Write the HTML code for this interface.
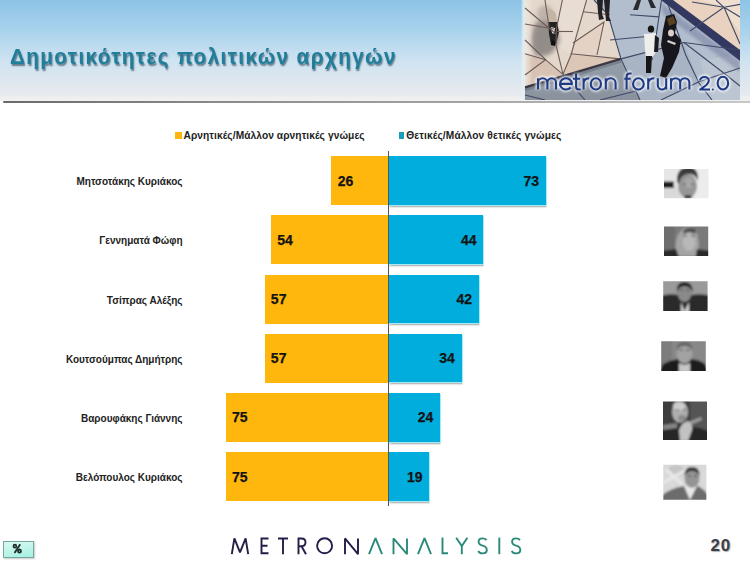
<!DOCTYPE html>
<html><head><meta charset="utf-8">
<style>
*{margin:0;padding:0;box-sizing:border-box}
html,body{width:750px;height:561px;overflow:hidden;background:#fff;font-family:"Liberation Sans",sans-serif}
.abs{position:absolute}
#hdr{left:0;top:0;width:750px;height:101px;background:linear-gradient(180deg,#8cc3e5 0%,#a9d2ec 30%,#cfe3f1 60%,#e4e9ee 90%,#e8ebee 94.5%,#efefef 96%,#f0f0f0 100%)}
#hline{left:2.5px;top:100.6px;width:748px;height:2px;border-radius:1px;background:linear-gradient(90deg,#6a6a6a,#7c7c7c 15%,#909090 35%,#a2a2a2 60%,#bcbcbc 85%,#c8c8c8 100%);filter:blur(0.55px)}
#title{left:10px;top:43.6px;font-size:22px;font-weight:bold;color:#1f7f9a;letter-spacing:1.48px;white-space:nowrap;transform:scaleX(0.94);transform-origin:0 0;text-shadow:1px 2px 1.6px rgba(20,50,70,0.6)}
.leg{font-size:10.2px;font-weight:bold;color:#222;white-space:nowrap;top:130px;letter-spacing:0.08px}
.sq{width:6px;height:6.5px;top:132.3px}
.lbl{font-size:10px;font-weight:bold;color:#222;white-space:nowrap;right:567.5px;text-align:right;line-height:11px}
.bo{background:#ffb70e}
.bb{background:#00addd;box-shadow:1px 1px 0 #a6eaf5,1.2px 3.2px 1.5px rgba(80,80,80,0.4)}
.val{font-size:14px;font-weight:bold;color:#141414;line-height:16px;-webkit-text-stroke:0.25px #141414}
#axis{left:388px;top:151px;width:1px;height:355px;background:#555}
.ph{width:45px;height:30px}
</style></head><body>
<div id="hdr" class="abs"></div>
<div id="hline" class="abs"></div>
<div id="title" class="abs">Δημοτικότητες πολιτικών αρχηγών</div>

<!-- collage -->
<svg class="abs" style="left:521px;top:0" width="219" height="100" viewBox="521 0 219 100">
 <defs>
  <filter id="bl1" x="-50%" y="-50%" width="200%" height="200%"><feGaussianBlur stdDeviation="2.2"/></filter>
  <filter id="bl2" x="-50%" y="-50%" width="200%" height="200%"><feGaussianBlur stdDeviation="0.7"/></filter>
  <filter id="bl3" x="-50%" y="-50%" width="200%" height="200%"><feGaussianBlur stdDeviation="1.5"/></filter>
  <filter id="glow" x="-10%" y="-30%" width="120%" height="160%"><feGaussianBlur stdDeviation="1.3"/></filter>
  <linearGradient id="lowg" x1="0" y1="0" x2="0" y2="1"><stop offset="0" stop-color="#a2adbd"/><stop offset="1" stop-color="#8a929e"/></linearGradient>
  <linearGradient id="edge" x1="0" y1="0" x2="1" y2="0"><stop offset="0" stop-color="#ffffff" stop-opacity="0"/><stop offset="0.5" stop-color="#e2eef2" stop-opacity="0.8"/><stop offset="1" stop-color="#e8eeee"/></linearGradient><linearGradient id="ledge" x1="0" y1="0" x2="1" y2="0"><stop offset="0" stop-color="#efe9e0" stop-opacity="0.9"/><stop offset="1" stop-color="#efe9e0" stop-opacity="0"/></linearGradient>
 </defs>
 <rect x="521" y="0" width="4.5" height="100" fill="url(#edge)"/>
 <rect x="525" y="0" width="215" height="100" fill="url(#lowg)"/>
 <!-- right blue tiles lighter -->
 <polygon points="594,0 665,0 740,52 740,100 640,100 621,58.9 608,14.5" fill="#b2bece"/>
 <polygon points="621,58.9 684,42.5 699,83 661,100 640,100" fill="#a8b3c3"/>
 <polygon points="700,60 740,55 740,100 712,100" fill="#bcc6d2"/>
 <!-- beige left region -->
 <polygon points="525,0 594,0 608,14.5 621,58.9 525,86.8" fill="#e4d8cc"/>
 <polygon points="525,53.8 545.5,59.7 563,74.3 525,86" fill="#d8c2b4"/>
 <polygon points="571,55 620.3,58.9 563,74.3" fill="#dcc6b6"/>
 <polygon points="562.4,0 586.6,0 571,55 556,45 556.5,28" fill="#e8ddd3"/>
 <polygon points="573,43 604,22 597,55 571,55" fill="#e4d2c4"/>
 <polygon points="525,24 554,29 540,55 525,40" fill="#ddd0c6"/>
 <!-- peach upper right -->
 <polygon points="666,0 740,0 740,54" fill="#e9d3c0"/>
 <polygon points="700,0 740,0 740,32 721,6" fill="#f0dfcf"/>
 <!-- shadow figure -->
 <path d="M536,22 Q548,16 556,26 L560,40 Q556,52 546,56 L536,56 Q530,46 532,34 Z" fill="#8c8684" filter="url(#bl1)" opacity="0.9"/>
 <ellipse cx="545" cy="14" rx="8" ry="9" fill="#a59c94" filter="url(#bl1)" opacity="0.6"/>
 <path d="M548,20 L557,22 L559,32 L556,44 L551,45 L549,34 Z" fill="#202020" filter="url(#bl2)"/>
 <path d="M547,10 Q553,8 556,14 L557,22 L548,22 Z" fill="#c4b4a4" filter="url(#bl2)"/>
 <path d="M551,27 L555,28 L554,34 L552,33 Z" fill="#e0e0d8" filter="url(#bl2)"/>
 <path d="M552,40 L556,42 L555,46 L551,45 Z" fill="#101010" filter="url(#bl2)"/>
 <rect x="525" y="0" width="8" height="86" fill="url(#ledge)"/>
 <!-- tile lines beige -->
 <g stroke="#6e5c58" stroke-width="1.1" fill="none">
  <path d="M525,8 L556,34"/>
  <path d="M545,0 L549,27"/>
  <path d="M562.4,0 L556.5,28 L556,45 L563,74.3"/>
  <path d="M586.6,0 L571,55 L563,74.3"/>
  <path d="M583,11.7 L610,14.7"/>
  <path d="M557,31.5 L573,31.5"/>
  <path d="M573,43 L604,22 L597,55"/>
  <path d="M525,24 L554,29"/>
  <path d="M525,40 L546,60"/>
  <path d="M525,53.8 L545.5,59.7 L563,74.3"/>
  <path d="M525,75 L545.5,59.7"/>
  <path d="M570.5,53.8 L620.3,58.9"/>
 </g>
 <!-- dark boundary line -->
 <path d="M525,87.5 L621,58.8" stroke="#3a3844" stroke-width="2.4" fill="none"/>
 <path d="M525,90 L621,61.5" stroke="#6a707c" stroke-width="2.5" fill="none" opacity="0.6" filter="url(#bl2)"/>
 <!-- navy band with shadow -->
 <polygon points="661,0 673,0 740,50 740,61" fill="#33375f" filter="url(#bl2)"/>
 <polygon points="661,3 740,61 740,72 663,14" fill="#6a7196" opacity="0.45" filter="url(#bl3)"/>
 <!-- blue region lines -->
 <g stroke="#404866" stroke-width="1.1" fill="none">
  <path d="M608,14.5 L621,58.9 L640,100"/>
  <path d="M594,0 L608,14.5"/>
  <path d="M630,14.7 L659,16.9"/>
  <path d="M661.5,0 L656.4,34 L652,60"/>
  <path d="M668,4.4 L685.7,55 L699,83 L712,100"/>
  <path d="M684,42.5 L740,50"/>
  <path d="M684,42.5 L725,74 L740,86"/>
  <path d="M661,100 L699,81.7 L740,68"/>
  <path d="M621,58.9 L684,42.5"/>
  <path d="M563,74.3 L585,100"/>
  <path d="M600,100 L640,90"/>
  <path d="M724,7.3 L740,4.4 M724,7.3 L740,17 M724,7.3 L716,0 M724,7.3 L690,31 M724,7.3 L740,44 M692,2 L724,7.3"/>
  <path d="M610,40 L652,36"/>
  <path d="M525,95 L545,100"/>
 </g>
 <!-- people top -->
 <path d="M597,0 L603,0 L602,14 L604,19 L599,20 L598,12 Z M604,0 L610,0 L609,17 L611,21 L606,21 L605,10 Z" fill="#232326" filter="url(#bl2)"/>
 <path d="M633,10 L637,0 L641,0 L638,10 Z M651,8 L648,0 L652,0 L656,8 Z" fill="#2a2a30" filter="url(#bl2)"/>
 <!-- people middle -->
 <g filter="url(#bl2)">
 <ellipse cx="651" cy="29" rx="3.2" ry="3.5" fill="#151515"/>
 <path d="M644,34 L656,33 L657,50 L652,58 L646,58 L645,50 Z" fill="#eeeeec"/>
 <path d="M646,56 L652,56 L651,73 L646,73 Z" fill="#151515"/>
 <path d="M655,35 L659,38 L658,52 L654,52 Z" fill="#1c1c1c"/>
 <path d="M666,16 L674,14 L677,22 L675,33 L681,40 L679,52 L672,68 L666,78 L660,76 L664,58 L661,45 L663,30 Z" fill="#18181a"/>
 <ellipse cx="671" cy="33" rx="3" ry="3.5" fill="#d8cfc8"/>
 <path d="M667,19 L673,16 L676,23 L669,26 Z" fill="#5a4220"/>
 <path d="M668,40 L676,43 L675,45 L667,42 Z" fill="#d0d0d0"/>
 </g>
 <!-- text -->
 <g fill="none" stroke-linecap="butt" stroke-linejoin="round">
  <path d="M538,78.25 V89.55 M538,82.95 A4.7,4.7 0 0 1 547.4,82.95 V89.55 M547.4,82.55 A4.3,4.3 0 0 1 556,82.55 V89.55 M560.05,83.9 H571.95 A5.95,5.65 0 1 0 570.56,87.53 M576.1,73.2 V86.5 Q576.1,89.55 579,89.55 H580.7 M573,78.75 H580 M583.6,78.25 V89.55 M583.6,82.6 Q584.6,78.25 589.2,78.25 M601,83.9 A5.1,5.65 0 1 0 590.8,83.9 A5.1,5.65 0 1 0 601,83.9 M605.8,78.25 V89.55 M605.8,83.15 A4.9,4.9 0 0 1 615.6,83.15 V89.55 M626.6,89.55 V76.6 Q626.6,73.45 629.7,73.45 H631.6 M624.3,78.75 H630.5 M643.75,83.9 A5.35,5.65 0 1 0 633.05,83.9 A5.35,5.65 0 1 0 643.75,83.9 M648.2,78.25 V89.55 M648.2,82.6 Q649.2,78.25 654.4,78.25 M657.8,78.25 V85.35 A4.2,4.2 0 0 0 666.2,85.35 M666.2,78.25 V89.55 M671,78.25 V89.55 M671,82.85 A4.6,4.6 0 0 1 680.2,82.85 V89.55 M680.2,82.85 A4.6,4.6 0 0 1 689.4,82.85 V89.55 M700.1,80.6 A4.35,3.55 0 0 1 708.8,80.6 Q708.8,83 706.4,85 L700.2,89.55 H710 M728.15,83.15 A5.25,6.4 0 1 0 717.65,83.15 A5.25,6.4 0 1 0 728.15,83.15" stroke="#ffffff" stroke-width="5" opacity="0.75" filter="url(#glow)"/>
  <circle cx="712.85" cy="89.4" r="2.4" fill="#ffffff" opacity="0.75" filter="url(#glow)"/>
  <path d="M538,78.25 V89.55 M538,82.95 A4.7,4.7 0 0 1 547.4,82.95 V89.55 M547.4,82.55 A4.3,4.3 0 0 1 556,82.55 V89.55 M560.05,83.9 H571.95 A5.95,5.65 0 1 0 570.56,87.53 M576.1,73.2 V86.5 Q576.1,89.55 579,89.55 H580.7 M573,78.75 H580 M583.6,78.25 V89.55 M583.6,82.6 Q584.6,78.25 589.2,78.25 M601,83.9 A5.1,5.65 0 1 0 590.8,83.9 A5.1,5.65 0 1 0 601,83.9 M605.8,78.25 V89.55 M605.8,83.15 A4.9,4.9 0 0 1 615.6,83.15 V89.55 M626.6,89.55 V76.6 Q626.6,73.45 629.7,73.45 H631.6 M624.3,78.75 H630.5 M643.75,83.9 A5.35,5.65 0 1 0 633.05,83.9 A5.35,5.65 0 1 0 643.75,83.9 M648.2,78.25 V89.55 M648.2,82.6 Q649.2,78.25 654.4,78.25 M657.8,78.25 V85.35 A4.2,4.2 0 0 0 666.2,85.35 M666.2,78.25 V89.55 M671,78.25 V89.55 M671,82.85 A4.6,4.6 0 0 1 680.2,82.85 V89.55 M680.2,82.85 A4.6,4.6 0 0 1 689.4,82.85 V89.55 M700.1,80.6 A4.35,3.55 0 0 1 708.8,80.6 Q708.8,83 706.4,85 L700.2,89.55 H710 M728.15,83.15 A5.25,6.4 0 1 0 717.65,83.15 A5.25,6.4 0 1 0 728.15,83.15" stroke="#1e3a84" stroke-width="2.1"/>
  <circle cx="712.85" cy="89.5" r="1.1" fill="#1e3a84"/>
 </g>
</svg>

<!-- legend -->
<div class="abs sq" style="left:175.3px;width:6.3px;background:#ffb50c"></div>
<div class="abs leg" style="left:183.5px">Αρνητικές/Μάλλον αρνητικές γνώμες</div>
<div class="abs sq" style="left:399px;width:4.6px;background:#1a9cba"></div>
<div class="abs leg" style="left:406.3px;letter-spacing:0.12px">Θετικές/Μάλλον θετικές γνώμες</div>

<div class="abs bo" style="left:331.47px;top:156.30px;width:56.53px;height:49px"></div>
<div class="abs bb" style="left:388.2px;top:156.30px;width:157.68px;height:48.7px"></div>
<div class="abs val" style="left:337.67px;top:172.80px">26</div>
<div class="abs val" style="right:210.92px;top:172.80px">73</div>
<div class="abs lbl" style="top:176.30px">Μητσοτάκης Κυριάκος</div>
<div class="abs bo" style="left:271.13px;top:215.30px;width:116.87px;height:49px"></div>
<div class="abs bb" style="left:388.2px;top:215.30px;width:95.04px;height:48.7px"></div>
<div class="abs val" style="left:277.33px;top:231.80px">54</div>
<div class="abs val" style="right:273.56px;top:231.80px">44</div>
<div class="abs lbl" style="top:235.30px">Γεννηματά Φώφη</div>
<div class="abs bo" style="left:264.67px;top:274.50px;width:123.33px;height:49px"></div>
<div class="abs bb" style="left:388.2px;top:274.50px;width:90.72px;height:48.7px"></div>
<div class="abs val" style="left:270.87px;top:291.00px">57</div>
<div class="abs val" style="right:277.88px;top:291.00px">42</div>
<div class="abs lbl" style="top:294.50px">Τσίπρας Αλέξης</div>
<div class="abs bo" style="left:264.67px;top:333.80px;width:123.33px;height:49px"></div>
<div class="abs bb" style="left:388.2px;top:333.80px;width:73.44px;height:48.7px"></div>
<div class="abs val" style="left:270.87px;top:350.30px">57</div>
<div class="abs val" style="right:295.16px;top:350.30px">34</div>
<div class="abs lbl" style="top:353.80px">Κουτσούμπας Δημήτρης</div>
<div class="abs bo" style="left:225.88px;top:392.90px;width:162.12px;height:49px"></div>
<div class="abs bb" style="left:388.2px;top:392.90px;width:51.84px;height:48.7px"></div>
<div class="abs val" style="left:232.08px;top:409.40px">75</div>
<div class="abs val" style="right:316.76px;top:409.40px">24</div>
<div class="abs lbl" style="top:412.90px">Βαρουφάκης Γιάννης</div>
<div class="abs bo" style="left:225.88px;top:452.10px;width:162.12px;height:49px"></div>
<div class="abs bb" style="left:388.2px;top:452.10px;width:41.04px;height:48.7px"></div>
<div class="abs val" style="left:232.08px;top:468.60px">75</div>
<div class="abs val" style="right:327.56px;top:468.60px">19</div>
<div class="abs lbl" style="top:472.10px">Βελόπουλος Κυριάκος</div>
<div id="axis" class="abs"></div>

<!-- photos -->
<svg class="abs" style="left:0;top:0" width="750" height="561" viewBox="0 0 750 561">
 <defs>
  <filter id="pb" x="-10%" y="-10%" width="120%" height="120%"><feGaussianBlur stdDeviation="0.9"/></filter>
  <clipPath id="c1"><rect x="664" y="169" width="44.5" height="29.3"/></clipPath>
  <clipPath id="c2"><rect x="664" y="226.5" width="44.2" height="29.5"/></clipPath>
  <clipPath id="c3"><rect x="663.2" y="281.3" width="44.4" height="29.7"/></clipPath>
  <clipPath id="c4"><rect x="661.2" y="341.3" width="44.6" height="29.7"/></clipPath>
  <clipPath id="c5"><rect x="663" y="401.6" width="44" height="38.5"/></clipPath>
  <clipPath id="c6"><rect x="663.3" y="464.7" width="43.1" height="35"/></clipPath>
 </defs>
 <g clip-path="url(#c1)"><g filter="url(#pb)">
  <rect x="660" y="165" width="52" height="38" fill="#e6e6e6"/>
  <rect x="695" y="165" width="17" height="38" fill="#ececec"/>
  <path d="M660,188 L676,186 L682,199 L660,199 Z" fill="#d9d9d9"/>
  <rect x="660" y="181.5" width="14" height="6.5" fill="#1e1e1e"/>
  <ellipse cx="687.5" cy="186" rx="9.5" ry="12" fill="#979797"/><ellipse cx="689" cy="183" rx="5" ry="5" fill="#a8a8a8"/>
  <path d="M677,182 Q676,168 688,167 Q699,167 698,181 Q695,173 688,174 Q680,175 679,184 Z" fill="#3a3a3a"/>
  <ellipse cx="688" cy="197" rx="4" ry="2" fill="#3a3a3a"/>
  <path d="M683,184 L686,184 M691,184 L694,184" stroke="#444" stroke-width="1.2"/>
 </g></g>
 <g clip-path="url(#c2)"><g filter="url(#pb)">
  <rect x="660" y="222" width="52" height="38" fill="#7a7a7a"/>
  <rect x="660" y="222" width="15" height="38" fill="#6e6e6e"/>
  <path d="M676,256 Q674,240 679,233 Q684,226 690,227 Q697,228 698,238 Q700,248 697,256 Z" fill="#a4a4a4"/>
  <ellipse cx="689" cy="242" rx="6.5" ry="9" fill="#b8b8b8"/>
  <path d="M683,231 Q689,225 696,230 L695,234 Q689,230 684,234 Z" fill="#4c4c4c"/>
  <path d="M660,251 L676,249 L680,260 L660,260 Z M697,249 L712,251 L712,260 L695,260 Z" fill="#2a2a2a"/>
  <path d="M683,236 L687,236 M691,236 L695,236" stroke="#555" stroke-width="1"/>
 </g></g>
 <g clip-path="url(#c3)"><g filter="url(#pb)">
  <rect x="660" y="277" width="52" height="38" fill="#9a9a9a"/>
  <path d="M660,315 L660,296 Q670,293 679,295 L691,295 Q702,293 712,296 L712,315 Z" fill="#2c2c2c"/>
  <ellipse cx="684.5" cy="293" rx="7" ry="9" fill="#8a8a8a"/>
  <path d="M677,292 Q676,282 684.5,282 Q693,282 692.5,292 Q690,286 684.5,286 Q679,286 677,292 Z" fill="#1e1e1e"/>
  <path d="M681,302 L684.5,311 L689,302 L689,312 L681,312 Z" fill="#cfcfcf"/>
  <path d="M680,290 L683,290 M686,290 L689,290" stroke="#444" stroke-width="1"/>
 </g></g>
 <g clip-path="url(#c4)"><g filter="url(#pb)">
  <rect x="658" y="337" width="52" height="38" fill="#888"/>
  <rect x="658" y="337" width="14" height="38" fill="#7c7c7c"/>
  <path d="M658,375 L663,364 Q670,360 678,359 L692,359 Q700,360 705,364 L710,375 Z" fill="#1e1e1e"/>
  <ellipse cx="684.5" cy="353" rx="8" ry="10.5" fill="#a2a2a2"/>
  <path d="M676.5,351 Q676,342 684.5,342 Q693,342 692.5,351 Q690,346 684.5,346 Q679,346 676.5,351 Z" fill="#666"/>
  <path d="M679,363 Q684.5,366 690,363 L690,372 L679,372 Z" fill="#c6c6c6"/>
  <path d="M679,350 L683,350 M686,350 L690,350" stroke="#555" stroke-width="1.2"/>
 </g></g>
 <g clip-path="url(#c5)"><g filter="url(#pb)">
  <rect x="660" y="398" width="50" height="45" fill="#3c3c3c"/>
  <rect x="690" y="398" width="20" height="45" fill="#555"/>
  <path d="M660,443 L660,428 Q672,424 684,426 L700,428 L710,432 L710,443 Z" fill="#262626"/>
  <path d="M663,425 L677,423 L677,428 L663,430 Z" fill="#858585"/>
  <ellipse cx="680" cy="412" rx="8" ry="10.5" fill="#b0b0b0"/><ellipse cx="679" cy="406" rx="6" ry="4.5" fill="#cdcdcd"/><ellipse cx="682" cy="418" rx="4" ry="3" fill="#8a8a8a"/>
  <path d="M676,410 L679,410 M683,410 L686,410" stroke="#555" stroke-width="1.2"/>
  <path d="M686,423 L701,417 L702,420 L688,426 Z" fill="#9a9a9a"/>
  <path d="M680,441 L679,430 Q682,422 688,421 Q693,424 692,430 L688,441 Z" fill="#c2c2c2"/>
 </g></g>
 <g clip-path="url(#c6)"><g filter="url(#pb)">
  <rect x="660" y="461" width="50" height="42" fill="#d9d9d9"/>
  <ellipse cx="676" cy="471" rx="9" ry="6" fill="#c6c6c6"/>
  <path d="M663,481 L688,467 L689,470 L664,484 Z M667,468 L684,484 L682,486 L665,471 Z" fill="#e8e8e8"/>
  <path d="M660,503 L660,497 Q670,488 684,486 L698,486 Q704,489 708,495 L708,503 Z" fill="#6c6c6c"/>
  <path d="M684,486 L690,500 L697,486 Z" fill="#e9e9e9"/>
  <ellipse cx="692" cy="478" rx="7.5" ry="10" fill="#949494"/>
  <path d="M684.5,476 Q684,467 692,467 Q700,467 699.5,476 Q697,471 692,471 Q687,471 684.5,476 Z" fill="#333"/>
  <path d="M688,476 L691,476 M694,476 L697,476" stroke="#444" stroke-width="1"/>
 </g></g>
</svg>
<!-- footer -->
<svg class="abs" style="left:0;top:530px" width="750" height="31" viewBox="0 530 750 31">
 <g fill="none" stroke="#211f48" stroke-width="1.9" stroke-linejoin="miter" stroke-linecap="butt">
  <path d="M231.8,554.2 L234.4,538.4 L240,552.4 L245.6,538.4 L248.2,554.2" stroke-linejoin="bevel"/>
  <path d="M268.5,538.5 H261.5 V553.3 H268.5 M261.5,545.8 H267.5"/>
  <path d="M278,538.5 H288 M283,538.5 V554.2"/>
  <path d="M298.5,554.2 V538.5 H301.5 Q305.5,538.5 305.5,542.3 Q305.5,546.2 301.5,546.2 H298.5 M301.5,546.2 L306,554.2"/>
  <circle cx="324.6" cy="545.8" r="7.5"/>
  <path d="M345,554.2 V538.4 L358,554.2 V538.4" stroke-linejoin="bevel"/>
 </g>
 <g fill="none" stroke="#2a8a7a" stroke-width="1.9" stroke-linejoin="miter">
  <path d="M369,554.2 L375.5,538.2 L382,554.2" stroke-linejoin="bevel"/>
  <path d="M393.5,554.2 V538.4 L407,554.2 V538.4" stroke-linejoin="bevel"/>
  <path d="M418,554.2 L424.5,538.2 L431,554.2" stroke-linejoin="bevel"/>
  <path d="M442.5,537.6 V553.3 H448"/>
  <path d="M456.2,537.8 L461.8,546 L467.4,537.8 M461.8,546 V554.2"/>
  <path d="M486.5,540 Q485,538.4 482.5,538.4 Q478.6,538.4 478.6,541.8 Q478.6,544.6 482.6,545.6 Q486.8,546.6 486.8,550 Q486.8,553.4 482.6,553.4 Q479.5,553.4 478.2,551"/>
  <path d="M499.3,537.6 V554.2"/>
  <path d="M520,540 Q518.5,538.4 516,538.4 Q512.1,538.4 512.1,541.8 Q512.1,544.6 516.1,545.6 Q520.3,546.6 520.3,550 Q520.3,553.4 516.1,553.4 Q513,553.4 511.7,551"/>
 </g>
</svg>
<div class="abs" style="left:2.6px;top:541.2px;width:31.2px;height:16.5px;border:1.3px solid #74a8a0;background:linear-gradient(170deg,#dcf8f2,#c4f6ec 40%,#a2f0e0);box-shadow:1px 1px 1.5px rgba(0,0,0,0.22)"></div>
<svg class="abs" style="left:0;top:530px" width="40" height="31" viewBox="0 530 40 31"><g fill="none" stroke="#1f2e2c" stroke-width="1.8"><ellipse cx="14.9" cy="546.2" rx="1.4" ry="1.5"/><ellipse cx="19.5" cy="551.1" rx="1.5" ry="1.6"/><path d="M20.2,544.2 L14.5,553"/></g></svg>
<div class="abs" style="left:710.5px;top:536px;font-size:17px;letter-spacing:0.7px;font-weight:bold;color:#3a404a;text-shadow:1px 1px 1px rgba(0,0,0,0.3);line-height:20px">20</div>
</body></html>
